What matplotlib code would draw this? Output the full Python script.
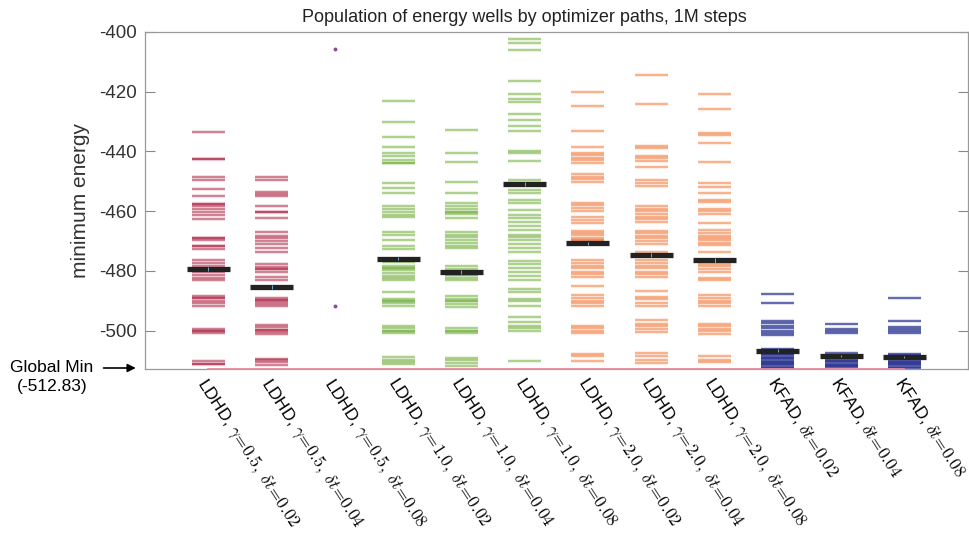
import matplotlib
matplotlib.use("Agg")
import matplotlib.pyplot as plt
import numpy as np

plt.rcParams['mathtext.fontset'] = 'cm'

labels = [
    r"LDHD, $\gamma\!=\!0.5,\ \delta t\!=\!0.02$",
    r"LDHD, $\gamma\!=\!0.5,\ \delta t\!=\!0.04$",
    r"LDHD, $\gamma\!=\!0.5,\ \delta t\!=\!0.08$",
    r"LDHD, $\gamma\!=\!1.0,\ \delta t\!=\!0.02$",
    r"LDHD, $\gamma\!=\!1.0,\ \delta t\!=\!0.04$",
    r"LDHD, $\gamma\!=\!1.0,\ \delta t\!=\!0.08$",
    r"LDHD, $\gamma\!=\!2.0,\ \delta t\!=\!0.02$",
    r"LDHD, $\gamma\!=\!2.0,\ \delta t\!=\!0.04$",
    r"LDHD, $\gamma\!=\!2.0,\ \delta t\!=\!0.08$",
    r"KFAD, $\delta t\!=\!0.02$",
    r"KFAD, $\delta t\!=\!0.04$",
    r"KFAD, $\delta t\!=\!0.08$",
]

e1 = [-433.6, -442.4, -442.4, -448.6, -449.6, -452.6, -454.9, -457.7, -457.7, -458.4, -459.3,
      -460.3, -461.2, -462.5, -469.0, -469.0, -469.8, -471.5, -471.5, -472.6, -476.5, -477.4,
      -478.2, -480.4, -481.3, -482.2, -483.0, -488.3, -489.2, -489.2, -490.0, -490.8, -491.6,
      -499.3, -500.0, -500.0, -500.8, -510.3, -511.0, -511.0]
e2 = [-448.7, -449.5, -453.6, -454.3, -455.0, -458.2, -460.2, -460.2, -462.3, -467.0, -468.2,
      -469.0, -469.9, -471.0, -472.4, -473.5, -477.7, -478.6, -479.2, -479.2, -480.4, -482.1,
      -483.0, -488.9, -489.6, -489.6, -490.4, -491.1, -491.9, -498.0, -498.8, -499.7, -499.7,
      -500.4, -501.1, -509.4, -509.9, -510.6, -511.4]
e3_points = [-405.8, -491.9]
e4 = [-423.1, -430.0, -435.3, -438.4, -440.4, -441.6, -442.8, -443.7, -443.7, -450.4, -452.3,
      -454.0, -458.4, -459.2, -460.3, -461.2, -462.1, -467.0, -467.9, -469.8, -471.8, -472.5,
      -477.0, -478.5, -479.1, -479.1, -479.8, -480.7, -481.6, -482.4, -483.2, -487.1, -489.4,
      -490.2, -490.2, -490.9, -491.6, -498.3, -499.1, -500.0, -500.0, -500.8, -508.9, -509.7,
      -510.5, -511.1]
e5 = [-432.9, -440.6, -443.4, -450.2, -454.0, -457.3, -458.2, -459.2, -460.2, -460.2, -461.0,
      -462.2, -467.0, -467.9, -468.6, -469.6, -470.5, -471.6, -472.4, -478.5, -479.4, -481.3,
      -481.3, -482.2, -483.0, -488.5, -489.4, -490.2, -490.2, -491.1, -492.0, -499.1, -500.0,
      -500.0, -500.8, -509.1, -509.9, -510.8, -511.9]
e6 = [-402.5, -403.8, -406.1, -416.4, -420.6, -422.6, -423.3, -427.5, -429.5, -431.5, -433.1,
      -439.8, -440.6, -443.1, -449.7, -450.6, -452.9, -454.0, -456.4, -457.3, -459.6, -461.2,
      -462.3, -463.5, -465.1, -466.2, -467.9, -468.7, -469.6, -470.9, -472.4, -473.5, -476.6,
      -477.7, -479.1, -480.2, -481.8, -483.0, -486.1, -486.9, -489.4, -490.2, -491.9, -495.4,
      -497.2, -498.3, -499.1, -500.2, -510.0]
e7 = [-420.2, -424.9, -433.3, -438.6, -440.4, -441.2, -442.1, -442.8, -443.7, -447.6, -448.4,
      -449.3, -450.3, -457.2, -458.0, -459.0, -460.1, -461.8, -462.9, -463.8, -466.5, -467.4,
      -468.1, -469.0, -469.8, -469.8, -476.5, -477.4, -478.3, -479.1, -480.2, -481.1, -482.1,
      -485.2, -488.0, -488.9, -489.9, -490.8, -491.9, -498.3, -499.1, -500.0, -500.8, -507.8,
      -508.6, -510.3]
e8 = [-414.4, -424.2, -438.2, -438.8, -441.5, -442.1, -443.2, -445.1, -449.7, -450.6, -451.5,
      -458.4, -459.2, -460.1, -461.0, -461.8, -462.6, -463.7, -466.5, -467.4, -468.2, -469.0,
      -469.9, -470.9, -473.5, -476.3, -477.4, -478.3, -479.1, -480.2, -481.1, -482.1, -486.6,
      -488.6, -489.4, -490.8, -491.9, -496.3, -497.7, -498.6, -499.4, -500.4, -507.5, -508.4,
      -509.7, -510.8]
e9 = [-420.8, -425.9, -433.9, -434.5, -437.3, -443.4, -450.6, -451.8, -454.0, -456.2, -456.8,
      -459.3, -460.1, -460.9, -464.0, -466.2, -467.4, -468.2, -469.0, -469.8, -470.7, -471.3,
      -473.5, -477.7, -478.5, -479.3, -480.4, -482.2, -483.0, -488.0, -488.9, -489.9, -490.8,
      -491.6, -497.7, -498.6, -499.4, -500.2, -501.0, -508.6, -509.7, -510.5]
e10 = [-487.6, -490.6, -496.8, -497.5, -498.4, -499.2, -500.0, -500.9, -501.5, -506.1, -506.5,
       -507.0, -507.4, -507.8, -508.2, -508.7, -509.1, -509.6, -510.0, -510.4, -510.8, -511.2,
       -511.6, -512.1, -512.5]
e11 = [-497.8, -499.4, -500.1, -500.9, -507.6, -508.0, -508.5, -508.9, -509.3, -509.7, -510.1,
       -510.5, -511.0, -511.4, -511.8, -512.2]
e12 = [-489.2, -496.6, -498.7, -499.4, -500.1, -500.9, -507.8, -508.2, -508.7, -509.1, -509.6,
       -510.0, -510.4, -510.8, -511.2, -511.6, -512.1, -512.5]

energies = [e1, e2, [], e4, e5, e6, e7, e8, e9, e10, e11, e12]
mean_energy = [-479.4, -485.4, np.nan, -475.9, -480.3, -450.8, -470.8, -474.8, -476.5,
               -506.7, -508.4, -508.9]
mean_err = [0.6, 0.6, np.nan, 0.6, 0.6, 0.7, 0.6, 0.7, 0.7, 0.4, 0.3, 0.3]
global_min = -512.83

group_colors = ['#b02646'] * 3 + ['#72b03c'] * 3 + ['#f47a3a'] * 3 + ['#26308f'] * 3
core_alpha = [0.6] * 9 + [0.8] * 3

fig = plt.figure(figsize=(9.69, 5.33), dpi=100)
ax = fig.add_axes([0.1496, 0.3077, 0.849, 0.6323])

xs = np.arange(1, len(labels) + 1)
hw = 0.26
for x, vals, col, a in zip(xs, energies, group_colors, core_alpha):
    if len(vals):
        ax.hlines(vals, x - hw, x + hw, colors=col, linewidth=3.0, alpha=0.14, zorder=2)
        ax.hlines(vals, x - hw, x + hw, colors=col, linewidth=1.2, alpha=a, zorder=2)

ax.plot([3] * len(e3_points), e3_points, 'o', color='#8a4b9e', markersize=1.8, zorder=3)

for x, m, err in zip(xs, mean_energy, mean_err):
    if np.isnan(m):
        continue
    ax.hlines(m, x - 0.34, x + 0.34, colors='#222222', linewidth=3.8, zorder=4)
    ax.errorbar(x, m, yerr=err, color='#7cc0ea', linewidth=0.6, zorder=5)

ax.plot([xs[0], xs[-1]], [global_min, global_min], color='#e58aa0', linewidth=1.3,
        zorder=6, clip_on=False)

ax.set_xlim(0, 13)
ax.set_ylim(global_min, -400)
ax.set_yticks([-500, -480, -460, -440, -420, -400])
ax.set_yticklabels(['-500', '-480', '-460', '-440', '-420', '-400'],
                   fontsize=13.5, color='#333333', family='Liberation Sans')
ax.tick_params(axis='y', direction='in', length=7, width=0.8, color='#888888',
               right=True, pad=6)
ax.set_xticks(xs)
ax.set_xticklabels([])
ax.tick_params(axis='x', length=0)
for s in ax.spines.values():
    s.set_color('#999999')
    s.set_linewidth(0.9)

for x, lab in zip(xs, labels):
    ax.annotate(lab, xy=(x, global_min), xycoords='data', xytext=(1, -4),
                textcoords='offset points', rotation=-57, rotation_mode='anchor',
                ha='left', va='top', fontsize=12.3, family='Liberation Sans')

ax.set_ylabel('minimum energy', fontsize=15, color='#333333', family='Liberation Sans',
              labelpad=6)
fig.text(524 / 969, 1 - 17 / 533, 'Population of energy wells by optimizer paths, 1M steps',
         fontsize=13, family='Liberation Sans', ha='center', va='center', color='#222222')

fig.text(0.010, 1 - 368 / 533, 'Global Min', fontsize=12.5, family='Liberation Sans',
         ha='left', va='center')
fig.text(0.054, 1 - 386 / 533, '(-512.83)', fontsize=12.5, family='Liberation Sans',
         ha='center', va='center')
ax.annotate('', xy=(0.143, 1 - 368 / 533), xycoords='figure fraction',
            xytext=(0.104, 1 - 368 / 533), textcoords='figure fraction',
            arrowprops=dict(arrowstyle='-|>', color='black', lw=1.2, mutation_scale=12))

fig.savefig('out.png', dpi=100)
